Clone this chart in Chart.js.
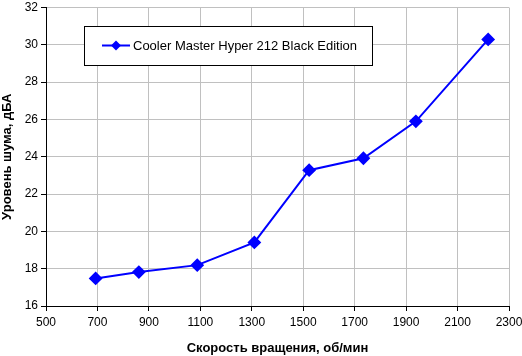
<!DOCTYPE html>
<html><head><meta charset="utf-8">
<script src="https://cdn.jsdelivr.net/npm/chart.js@4/dist/chart.umd.min.js"></script>
<style>html,body{margin:0;padding:0;background:#fff}#w{width:522px;height:356px}</style>
</head><body><div id="w"><canvas id="c" width="522" height="356"></canvas></div>
<script>
const seriesName = "Cooler Master Hyper 212 Black Edition";
const rpm = [693, 861, 1088, 1310, 1523, 1734, 1938, 2219];
const noise = [17.48, 17.82, 18.19, 19.41, 23.28, 23.92, 25.9, 30.29];
const xTitle = "Скорость вращения, об/мин";
const yTitle = "Уровень шума, дБА";

const FONT = "'Liberation Sans', Arial, sans-serif";

const legendBox = {
  id: 'legendBox',
  afterDraw(chart) {
    const ctx = chart.ctx;
    const ds = chart.data.datasets[0];
    ctx.save();
    ctx.fillStyle = '#fff';
    ctx.fillRect(84.5, 26.5, 288, 39);
    ctx.strokeStyle = '#000';
    ctx.lineWidth = 1;
    ctx.strokeRect(84.5, 26.5, 288, 39);
    ctx.strokeStyle = ds.borderColor;
    ctx.lineWidth = 2;
    ctx.beginPath(); ctx.moveTo(102, 45.5); ctx.lineTo(130, 45.5); ctx.stroke();
    ctx.fillStyle = ds.backgroundColor;
    ctx.beginPath(); ctx.moveTo(116, 40.5); ctx.lineTo(121, 45.5); ctx.lineTo(116, 50.5); ctx.lineTo(111, 45.5); ctx.closePath(); ctx.fill();
    ctx.fillStyle = '#000';
    ctx.font = '13px ' + FONT;
    ctx.textBaseline = 'middle';
    ctx.textAlign = 'left';
    ctx.fillText(ds.label, 133, 46);
    ctx.restore();
  }
};

new Chart(document.getElementById('c'), {
  type: 'scatter',
  data: {
    datasets: [{
      label: seriesName,
      data: rpm.map((x, i) => ({x: x, y: noise[i]})),
      showLine: true,
      borderColor: '#0000ff',
      backgroundColor: '#0000ff',
      borderWidth: 2,
      pointStyle: 'rectRot',
      pointRadius: 5.5,
      pointHoverRadius: 5.5,
      tension: 0
    }]
  },
  options: {
    responsive: false,
    animation: false,
    devicePixelRatio: 1,
    layout: {padding: {top: 0, right: 0, left: 0, bottom: 0}},
    plugins: {legend: {display: false}, tooltip: {enabled: false}},
    scales: {
      x: {
        type: 'linear', min: 500, max: 2300,
        ticks: {stepSize: 200, color: '#000', font: {family: FONT, size: 12}, padding: 4, maxRotation: 0, callback: v => String(v)},
        grid: {color: '#c0c0c0', lineWidth: 1, tickColor: '#000', tickLength: 5},
        border: {color: '#000', width: 1},
        title: {display: true, text: xTitle, color: '#000', font: {family: FONT, size: 13, weight: 'bold'}, padding: {top: 5, bottom: 0}},
        afterFit(s) { s.height = 50; s.paddingRight = 13; s.paddingLeft = 0; }
      },
      y: {
        min: 16, max: 32,
        ticks: {stepSize: 2, color: '#000', font: {family: FONT, size: 12}, padding: 3, callback: v => String(v)},
        grid: {color: '#c0c0c0', lineWidth: 1, tickColor: '#000', tickLength: 5},
        border: {color: '#000', width: 1},
        title: {display: true, text: yTitle, color: '#000', font: {family: FONT, size: 13, weight: 'bold'}, padding: {top: 0, bottom: 4}},
        afterFit(s) { s.width = 46; s.paddingTop = 5; s.paddingBottom = 0; }
      }
    }
  },
  plugins: [legendBox]
});
</script></body></html>
